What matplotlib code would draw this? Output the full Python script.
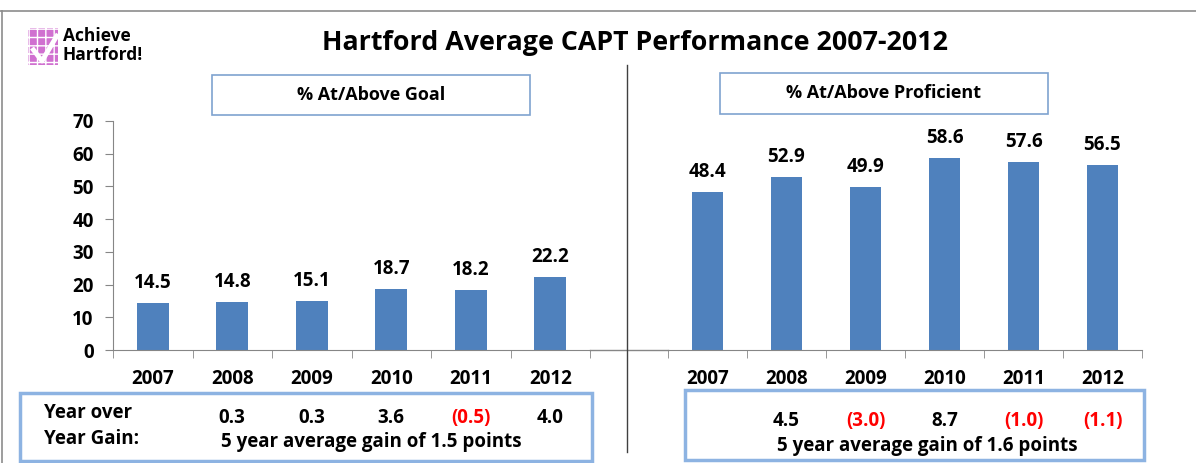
import matplotlib
matplotlib.use("Agg")
import matplotlib.pyplot as plt
from matplotlib.patches import Rectangle
from matplotlib.lines import Line2D

plt.rcParams['font.family'] = ['Open Sans', 'DejaVu Sans']
plt.rcParams['font.weight'] = 'bold'

years = ['2007', '2008', '2009', '2010', '2011', '2012']
goal = [14.5, 14.8, 15.1, 18.7, 18.2, 22.2]
proficient = [48.4, 52.9, 49.9, 58.6, 57.6, 56.5]
goal_gain = ['', '0.3', '0.3', '3.6', '(0.5)', '4.0']
prof_gain = ['', '4.5', '(3.0)', '8.7', '(1.0)', '(1.1)']
goal_avg = '5 year average gain of 1.5 points'
prof_avg = '5 year average gain of 1.6 points'

BAR = '#4F81BD'
BOX = '#8DB3E2'
GREY = '#868686'
FS = 13.5

W, H = 1196, 463
fig = plt.figure(figsize=(W / 100, H / 100), dpi=100)


def fx(px):
    return px / W


def fy(py):
    return 1 - py / H


def draw_panel(rect, values, show_y):
    ax = fig.add_axes(rect)
    x = range(len(values))
    ax.bar(x, values, width=0.40, color=BAR)
    ax.set_xlim(-0.5, len(values) - 0.5)
    ax.set_ylim(0, 70)
    for i, v in enumerate(values):
        ax.annotate(f'{v:.1f}', (i, v), xytext=(0, 10), textcoords='offset pixels',
                    ha='center', va='bottom', fontsize=FS, fontweight='bold')
    ax.set_xticks(list(x))
    ax.set_xticklabels(years, fontsize=FS, fontweight='bold')
    ax.set_xticks([i - 0.5 for i in range(len(values) + 1)], minor=True)
    ax.tick_params(axis='x', which='major', length=0, pad=14)
    ax.tick_params(axis='x', which='minor', length=6, color=GREY, direction='out')
    for s in ['top', 'right']:
        ax.spines[s].set_visible(False)
    ax.spines['bottom'].set_color(GREY)
    if show_y:
        ax.set_yticks(range(0, 71, 10))
        ax.tick_params(axis='y', length=6, color=GREY, pad=8, labelsize=FS)
        for lbl in ax.get_yticklabels():
            lbl.set_fontweight('bold')
        ax.spines['left'].set_color(GREY)
    else:
        ax.set_yticks([])
        ax.spines['left'].set_visible(False)
    return ax


base_y = 350
ax1 = draw_panel([fx(113), fy(base_y), fx(590 - 113), (350 - 121) / H], goal, True)
ax2 = draw_panel([fx(668), fy(base_y), fx(1142 - 668), (350 - 121) / H], proficient, False)

# baseline continues between the two panels
fig.add_artist(Line2D([fx(590), fx(668)], [fy(base_y), fy(base_y)], color=GREY, lw=1))
# divider
fig.add_artist(Line2D([fx(627), fx(627)], [fy(65), fy(452)], color='#404040', lw=1))
# outer frame
fig.add_artist(Line2D([0, 1], [fy(11), fy(11)], color='#8C8C8C', lw=1.2))
fig.add_artist(Line2D([fx(2), fx(2)], [fy(11), 0], color='#8C8C8C', lw=1.2))

# title
fig.text(fx(635), fy(43), 'Hartford Average CAPT Performance 2007-2012',
         ha='center', va='center', fontsize=19.3, fontweight='bold')

# subtitle boxes
for (x0, y0, x1, y1), label in [((212, 75, 530, 115), '% At/Above Goal'),
                                ((720, 73, 1048, 114), '% At/Above Proficient')]:
    fig.add_artist(Rectangle((fx(x0), fy(y1)), fx(x1 - x0), (y1 - y0) / H,
                             transform=fig.transFigure, fill=False, ec='#7FA3CF', lw=1.2))
    fig.text(fx((x0 + x1) / 2), fy((y0 + y1) / 2), label, ha='center', va='center',
             fontsize=13, fontweight='bold')

# gain boxes
for (x0, y0, x1, y1) in [(20, 393, 592, 461), (685, 390, 1144, 460)]:
    fig.add_artist(Rectangle((fx(x0), fy(y1)), fx(x1 - x0), (y1 - y0) / H,
                             transform=fig.transFigure, fill=False, ec=BOX, lw=2.5))

fig.text(fx(44), fy(413), 'Year over', ha='left', va='center', fontsize=FS, fontweight='bold')
fig.text(fx(44), fy(439), 'Year Gain:', ha='left', va='center', fontsize=FS, fontweight='bold')

for ax, gains, gy in [(ax1, goal_gain, 418), (ax2, prof_gain, 421)]:
    for i, g in enumerate(gains):
        if not g:
            continue
        xd = ax.transData.transform((i, 0))[0]
        col = '#FF0000' if g.startswith('(') else 'black'
        fig.text(xd / W, fy(gy), g, ha='center', va='center', fontsize=FS,
                 fontweight='bold', color=col)

fig.text(fx(221), fy(442), goal_avg, ha='left', va='center', fontsize=FS, fontweight='bold')
fig.text(fx(777), fy(446), prof_avg, ha='left', va='center', fontsize=FS, fontweight='bold')

# logo
logo = Rectangle((fx(28), fy(65)), fx(30), 37 / H, transform=fig.transFigure,
                 facecolor='#D070D0', edgecolor='white', hatch='++', lw=0)
fig.add_artist(logo)
fig.add_artist(Line2D([fx(32), fx(42), fx(58)], [fy(48), fy(61), fy(34)],
                      color='white', lw=3.5, solid_capstyle='butt'))
fig.text(fx(63), fy(36), 'Achieve', ha='left', va='center', fontsize=12.5,
         fontweight='bold', linespacing=0.9)
fig.text(fx(63), fy(55), 'Hartford!', ha='left', va='center', fontsize=12.5,
         fontweight='bold', linespacing=0.9)

fig.savefig('out.png', dpi=100)
